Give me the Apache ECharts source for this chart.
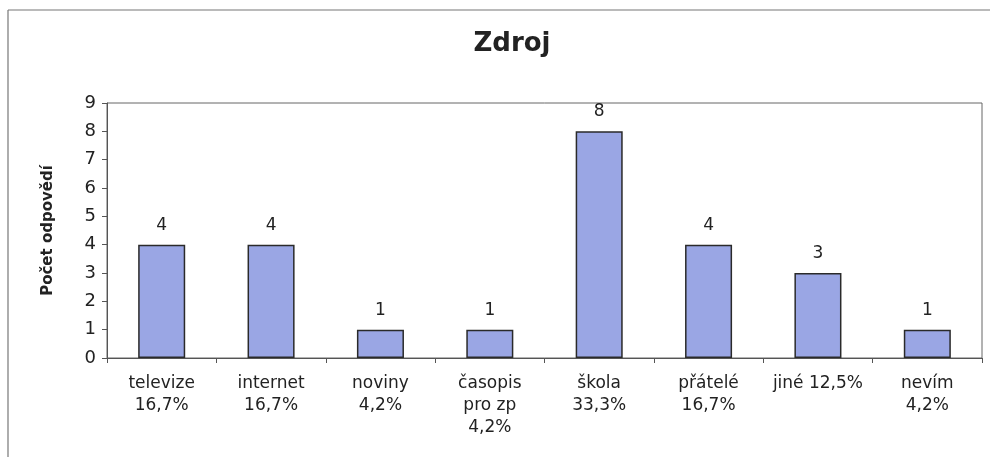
<!DOCTYPE html>
<html>
<head>
<meta charset="utf-8">
<script src="https://cdn.jsdelivr.net/npm/echarts@6/dist/echarts.min.js"></script>
<style>
html,body{margin:0;padding:0;background:#fff;}
#c{width:990px;height:457px;}
</style>
</head>
<body>
<div id="c"></div>
<script>
const categories = ["televize", "internet", "noviny", "časopis\npro zp", "škola", "přátelé", "jiné", "nevím"];
const percents = ["16,7%", "16,7%", "4,2%", "4,2%", "33,3%", "16,7%", "12,5%", "4,2%"];
const separators = ["\n", "\n", "\n", "\n", "\n", "\n", " ", "\n"];
const counts = [4, 4, 1, 1, 8, 4, 3, 1];
const yTicks = [0, 1, 2, 3, 4, 5, 6, 7, 8, 9];

const labels = categories.map((c, i) => c + separators[i] + percents[i]);
const font = "'DejaVu Sans', Arial, sans-serif";

const chart = echarts.init(document.getElementById('c'), null, {renderer: 'canvas'});
chart.setOption({
  animation: false,
  backgroundColor: '#fff',
  graphic: [
    {type: 'line', shape: {x1: 8, y1: 10, x2: 990, y2: 10}, style: {stroke: '#777', lineWidth: 1.2}},
    {type: 'line', shape: {x1: 8, y1: 10, x2: 8, y2: 457}, style: {stroke: '#777', lineWidth: 1.2}}
  ],
  title: {
    text: 'Zdroj',
    left: 507, top: 26,
    textAlign: 'center',
    textStyle: {fontFamily: font, fontWeight: 'bold', fontSize: 26, color: '#222'}
  },
  grid: {
    left: 107, right: 8, top: 103, bottom: 99,
    show: true, borderColor: '#666', borderWidth: 1, backgroundColor: 'transparent'
  },
  xAxis: {
    type: 'category',
    data: labels,
    boundaryGap: true,
    axisLine: {lineStyle: {color: '#555', width: 1}},
    axisTick: {show: true, length: 5, lineStyle: {color: '#555'}},
    axisLabel: {
      interval: 0, margin: 15, color: '#222',
      fontFamily: font, fontSize: 17, lineHeight: 22
    }
  },
  yAxis: {
    type: 'value',
    min: yTicks[0], max: yTicks[yTicks.length - 1], interval: 1,
    name: 'Počet odpovědí',
    nameLocation: 'middle',
    nameGap: 51,
    nameTextStyle: {fontFamily: font, fontWeight: 'bold', fontSize: 15, color: '#222'},
    axisLine: {show: true, lineStyle: {color: '#555'}},
    axisTick: {show: true, length: 5, lineStyle: {color: '#555'}},
    splitLine: {show: false},
    axisLabel: {margin: 11, color: '#222', fontFamily: font, fontSize: 18}
  },
  series: [{
    type: 'bar',
    data: counts,
    barWidth: '43%',
    itemStyle: {color: '#9aa6e4', borderColor: '#2a2a2a', borderWidth: 1.5},
    label: {
      show: true, position: 'top', distance: 11,
      color: '#222', fontFamily: font, fontSize: 17
    }
  }]
});
</script>
</body>
</html>
